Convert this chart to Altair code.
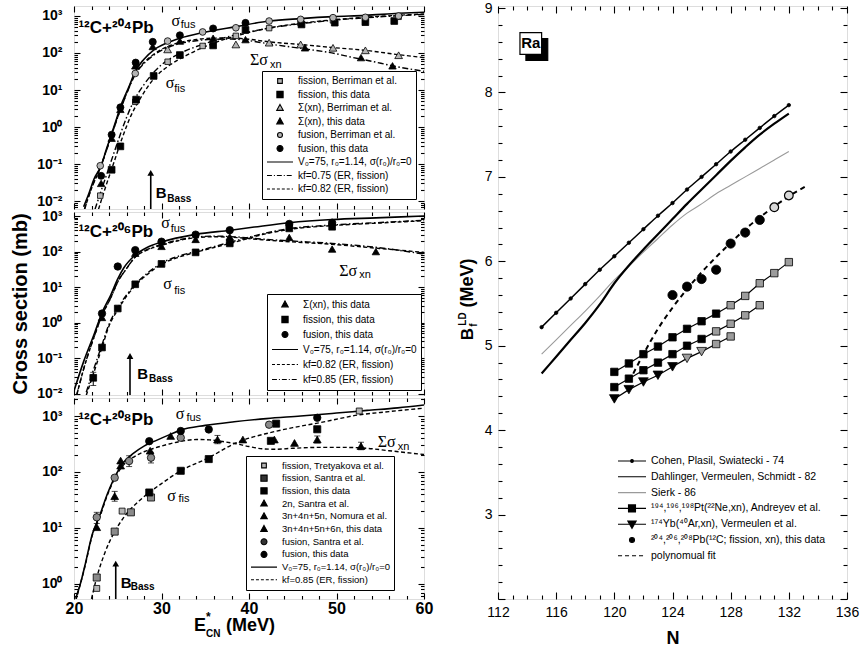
import altair as alt
import pandas as pd

SANS = "Liberation Sans"
SERIF = "Liberation Serif"

# ================= Panel 1 : 12C + 204Pb =================
p1_fus_E = [21.1, 21.7, 22.3, 23.1, 23.7, 24.3, 24.8, 25.3, 26.3, 27.0, 28.0, 29.1, 30.7, 32.1, 34.7, 38.5, 42.3, 45.9, 49.6, 53.3, 57.1, 60.0]
p1_fus_v = [0.007, 0.016, 0.04, 0.09, 0.25, 0.66, 1.5, 3.5, 12.6, 32, 68, 120, 190, 250, 355, 515, 730, 850, 960, 1040, 1180, 1260]
p1_fis75_E = [22.4, 23.0, 24.0, 25.0, 26.0, 27.0, 28.0, 29.0, 30.0, 32.0, 34.0, 36.0, 38.0, 40.0, 43.0, 46.0, 50.0, 55.0, 60.0]
p1_fis75_v = [0.006, 0.016, 0.08, 0.4, 1.8, 6, 14, 28, 48, 95, 150, 215, 290, 370, 500, 620, 780, 950, 1100]
p1_fis82_E = [22.8, 23.5, 24.5, 25.5, 26.5, 27.5, 28.5, 29.5, 31.0, 33.0, 35.0, 37.0, 39.0, 42.0, 46.0, 50.0, 55.0, 60.0]
p1_fis82_v = [0.006, 0.02, 0.1, 0.5, 2.0, 5.5, 13, 25, 48, 90, 150, 225, 310, 460, 640, 800, 980, 1130]
p1_xn82_E = [21.2, 22.0, 23.0, 24.0, 25.0, 26.0, 27.0, 28.0, 29.0, 30.0, 31.0, 32.0, 34.0, 36.0, 38.0, 40.0, 42.3, 45.9, 49.6, 53.3, 57.1, 60.0]
p1_xn82_v = [0.006, 0.022, 0.08, 0.38, 1.9, 8, 28, 55, 88, 125, 160, 190, 232, 252, 255, 235, 200, 170, 140, 118, 90, 75]
p1_xn75_E = [21.2, 22.0, 23.0, 24.0, 25.0, 26.0, 27.0, 28.0, 29.0, 30.0, 31.0, 32.0, 34.0, 36.0, 38.0, 40.0, 42.7, 46.5, 50.0, 51.6, 54.0, 56.4, 60.0]
p1_xn75_v = [0.006, 0.022, 0.08, 0.37, 1.85, 7.7, 26, 52, 84, 118, 150, 178, 215, 235, 238, 215, 170, 128, 95, 78, 60, 45, 32]

p1_fisB_E = [23.0, 27.0, 30.7, 34.7, 38.5, 42.3, 45.9, 49.6, 53.3, 57.1]
p1_fisB_v = [0.014, 4.8, 58, 155, 290, 470, 640, 760, 850, 950]
p1_fisT_E = [24.3, 25.3, 27.1, 29.1, 32.1, 35.9, 39.6, 46.0, 49.8, 53.3, 56.6]
p1_fisT_v = [0.07, 0.3, 5.5, 24, 88, 160, 420, 590, 660, 680, 730]
p1_xnB_E = [30.7, 38.5, 42.3, 45.9, 49.6, 53.3, 57.1]
p1_xnB_v = [125, 170, 190, 170, 138, 118, 87]
p1_xnT_E = [23.1, 24.3, 25.3, 27.0, 29.0, 32.1, 35.9, 39.6, 46.4, 52.8, 56.4]
p1_xnT_v = [0.03, 0.5, 3.0, 45, 150, 210, 250, 230, 138, 75, 45]
p1_fusB_E = [23.0, 27.0, 30.7, 34.7, 38.5, 42.3, 45.9, 49.6, 53.3, 57.1]
p1_fusB_v = [0.09, 28, 210, 370, 480, 730, 810, 900, 920, 1000]
p1_fusT_E = [23.1, 24.3, 25.3, 27.05, 29.0, 32.1, 35.9, 39.6]
p1_fusT_v = [0.048, 0.62, 3.4, 55, 200, 300, 460, 650]

# ================= Panel 2 : 12C + 206Pb =================
p2_fus_E = [20.0, 21.1, 22.3, 23.2, 24.2, 25.0, 25.7, 27.0, 28.4, 30.0, 33.9, 37.9, 40.6, 44.6, 49.5, 54.5, 60.0]
p2_fus_v = [0.012, 0.08, 0.47, 1.9, 6, 17, 35, 80, 133, 185, 305, 400, 490, 650, 800, 890, 1000]
p2_fis_E = [21.4, 22.2, 23.2, 24.0, 25.0, 26.0, 27.0, 28.5, 30.0, 32.0, 33.9, 36.0, 38.9, 41.5, 44.6, 49.5, 54.5, 60.0]
p2_fis82_v = [0.009, 0.035, 0.2, 0.8, 2.3, 5.5, 11, 24, 44, 70, 95, 130, 200, 300, 420, 540, 630, 740]
p2_fis85_v = [0.011, 0.045, 0.24, 0.9, 2.6, 6, 12, 26, 47, 75, 100, 138, 215, 315, 440, 560, 650, 760]
p2_xn_E = [20.3, 21.2, 22.3, 23.2, 24.2, 25.0, 26.0, 27.0, 28.4, 30.0, 32.0, 33.9, 36.0, 38.9, 41.5, 44.6, 49.5, 54.5, 60.0]
p2_xn82_v = [0.009, 0.06, 0.4, 1.6, 5, 14, 33, 70, 112, 150, 205, 245, 262, 245, 215, 190, 160, 125, 95]
p2_xn85_v = [0.009, 0.06, 0.4, 1.6, 5, 14, 33, 70, 115, 158, 215, 255, 272, 255, 225, 200, 170, 132, 85]

p2_xnT_E = [23.2, 27.0, 30.0, 33.9, 37.8, 44.6, 49.5, 54.5]
p2_xnT_v = [1.4, 90, 140, 220, 260, 250, 118, 100]
p2_fisT_E = [22.2, 23.2, 25.0, 27.0, 30.0, 33.9, 37.8, 44.6, 49.5]
p2_fisT_v = [0.028, 0.2, 2.5, 12, 45, 95, 170, 450, 500]
p2_fusT_E = [23.2, 25.0, 27.0, 30.0, 33.9, 37.8, 44.6, 49.5]
p2_fusT_v = [1.8, 38, 110, 190, 300, 400, 600, 650]
p2_err_E = [22.2]
p2_err_lo = [0.017]
p2_err_hi = [0.04]

# ================= Panel 3 : 12C + 208Pb =================
p3_fus_E = [20.2, 20.8, 21.3, 22.1, 22.9, 23.8, 24.8, 25.6, 26.7, 28.0, 29.3, 31.0, 32.2, 35.0, 38.3, 42.0, 45.9, 50.0, 53.5, 57.0, 60.0]
p3_fus_v = [0.55, 1.1, 2.3, 7.8, 16, 40, 90, 145, 210, 290, 360, 470, 560, 680, 790, 900, 1000, 1130, 1260, 1400, 1570]
p3_fis_E = [22.0, 22.6, 23.5, 24.65, 25.5, 26.5, 27.5, 28.6, 30.0, 32.2, 35.4, 38.5, 42.3, 45.0, 48.1, 52.6, 56.0, 60.0]
p3_fis_v = [0.54, 1.3, 3.5, 8.6, 14, 22, 31, 43, 62, 105, 180, 330, 500, 620, 760, 1050, 1200, 1380]
p3_xn_E = [20.2, 21.3, 22.1, 22.9, 23.8, 24.8, 25.6, 26.7, 28.0, 29.3, 31.0, 32.5, 34.0, 35.5, 37.0, 38.5, 40.0, 41.5, 43.0, 45.0, 48.0, 51.0, 53.5, 56.0, 60.0]
p3_xn_v = [0.5, 2.2, 7.5, 15, 38, 85, 130, 180, 230, 270, 320, 360, 380, 375, 350, 320, 285, 260, 255, 265, 275, 275, 265, 240, 205]

p3_fisTre_E = [22.6, 25.5, 52.6]
p3_fisTre_v = [0.83, 20, 1230]
p3_fisSan_E = [22.6, 24.65, 26.5, 28.8]
p3_fisSan_v = [1.3, 8.6, 19, 35]
p3_fisT_E = [28.6, 32.2, 35.4, 42.5, 43.1, 47.8]
p3_fisT_v = [43, 105, 170, 360, 730, 580]
p3_2n_E = [22.6, 24.65, 25.33]
p3_2n_v = [10.3, 37, 130]
p3_nom_E = [25.33, 28.7, 31.05, 36.4]
p3_nom_v = [160, 240, 440, 380]
p3_xnT_E = [39.3, 42.9, 45.2, 47.8, 52.8]
p3_xnT_v = [380, 380, 330, 380, 290]
p3_fusSan_E = [22.6, 24.65, 26.3, 28.8, 32.2, 42.3]
p3_fusSan_v = [15.5, 79, 157, 180, 410, 700]
p3_fusT_E = [28.6, 32.2, 35.4, 47.8]
p3_fusT_v = [355, 540, 575, 930]
p3_err_E = [22.6, 24.65, 26.3, 28.8, 36.4, 47.8, 52.8]
p3_err_lo = [12, 30, 125, 145, 320, 330, 250]
p3_err_hi = [19, 45, 195, 225, 450, 440, 340]

# ================= Right panel : Ra fission barriers =================
r_N = [115, 116, 117, 118, 119, 120, 121, 122, 123, 124, 125, 126, 127, 128, 129, 130, 131, 132]
r_cohen = [5.22, 5.39, 5.56, 5.73, 5.90, 6.06, 6.22, 6.38, 6.54, 6.69, 6.85, 7.00, 7.15, 7.30, 7.44, 7.58, 7.72, 7.85]
r_dahl = [4.67, 4.87, 5.07, 5.27, 5.49, 5.74, 5.95, 6.14, 6.32, 6.50, 6.68, 6.85, 7.02, 7.19, 7.35, 7.50, 7.63, 7.75]
r_sierk = [4.90, 5.07, 5.24, 5.41, 5.59, 5.78, 5.94, 6.11, 6.27, 6.43, 6.57, 6.68, 6.80, 6.90, 7.00, 7.10, 7.20, 7.30]

r_and1_N = [120, 121, 122, 123, 124, 125, 126, 127, 128, 129, 130, 131, 132]
r_and1_B = [4.69, 4.79, 4.90, 4.99, 5.10, 5.20, 5.29, 5.38, 5.48, 5.59, 5.74, 5.86, 5.99]
r_and1_grey = [False] * 8 + [True] * 5
r_and2_N = [120, 121, 122, 123, 124, 125, 126, 127, 128, 129, 130]
r_and2_B = [4.51, 4.61, 4.71, 4.80, 4.90, 5.00, 5.08, 5.17, 5.26, 5.36, 5.48]
r_and2_grey = [False] * 7 + [True] * 4
r_low_N = [120, 121, 122, 123, 124, 125, 126, 127, 128]
r_low_B = [4.37, 4.48, 4.57, 4.65, 4.75, 4.85, 4.93, 5.02, 5.11]
r_low_mark = ["tk", "tk", "tk", "tk", "tk", "tg", "tg", "sg", "sg"]

r_this_N = [124, 125, 126, 127, 128, 129, 130]
r_this_B = [5.60, 5.70, 5.79, 5.90, 6.21, 6.34, 6.49]
r_open_N = [131, 132]
r_open_B = [6.64, 6.78]
r_fit_N = [121.3, 122.0, 123.0, 124.0, 125.0, 126.0, 127.0, 128.0, 129.0, 130.0, 131.0, 132.0, 133.3]
r_fit_B = [4.67, 4.90, 5.20, 5.45, 5.67, 5.87, 6.05, 6.22, 6.38, 6.52, 6.65, 6.77, 6.90]

# ================= Legend texts =================
L1 = ["fission, Berriman et al.", "fission, this data", "Σ(xn), Berriman et al.", "Σ(xn), this data",
      "fusion, Berriman et al.", "fusion, this data", "V₀=75, r₀=1.14, σ(r₀)/r₀=0",
      "kf=0.75 (ER, fission)", "kf=0.82 (ER, fission)"]
L2 = ["Σ(xn), this data", "fission, this data", "fusion, this data", "V₀=75, r₀=1.14, σ(r₀)/r₀=0",
      "kf=0.82 (ER, fission)", "kf=0.85 (ER, fission)"]
L3 = ["fission, Tretyakova et al.", "fission, Santra et al.", "fission, this data", "2n, Santra et al.",
      "3n+4n+5n, Nomura et al.", "3n+4n+5n+6n, this data", "fusion, Santra et al.", "fusion, this data",
      "V₀=75, r₀=1.14, σ(r₀)/r₀=0", "kf=0.85 (ER, fission)"]
LR = ["Cohen, Plasil, Swiatecki - 74", "Dahlinger, Vermeulen, Schmidt - 82", "Sierk - 86",
      "¹⁹⁴,¹⁹⁶,¹⁹⁸Pt(²²Ne,xn), Andreyev et al.", "¹⁷⁴Yb(⁴⁰Ar,xn), Vermeulen et al.",
      "²⁰⁴,²⁰⁶,²⁰⁸Pb(¹²C; fission, xn), this data", "polynomual fit"]

# ================= styling helpers =================
GREY = "#b4b4b4"
DGREY = "#8a8a8a"
DASH = [4, 2.5]
DASHDOT = [6, 2.5, 1.5, 2.5]

P_SQS = "M-0.18,-0.18H0.18V0.18H-0.18Z"
P_SQ = "M-0.24,-0.24H0.24V0.24H-0.24Z"
P_TRI = "M0,-0.27L0.25,0.18L-0.25,0.18Z"
P_CIS = "M0.19,0A0.19,0.19 0 1,1 -0.19,0A0.19,0.19 0 1,1 0.19,0Z"
P_CI = "M0.23,0A0.23,0.23 0 1,1 -0.23,0A0.23,0.23 0 1,1 0.23,0Z"
P_LINE = "M-1,0H1"
P_DASH = "M-1,0H-0.77M-0.62,0H-0.39M-0.24,0H-0.01M0.14,0H0.37M0.52,0H0.75M0.9,0H1"
P_DD = "M-1,0H-0.62M-0.47,0H-0.39M-0.24,0H0.14M0.29,0H0.37M0.52,0H0.9"

SUP = ("datum.value < 0.05 ? '10⁻²' : datum.value < 0.5 ? '10⁻¹' : datum.value < 5 ? '10⁰' : "
       "datum.value < 50 ? '10¹' : datum.value < 500 ? '10²' : '10³'")


def ax(orient, values, size, labels=False, **kw):
    base = dict(orient=orient, values=values, tickSize=size, offset=-size, labels=labels,
                domain=False, grid=False, tickColor="black", tickWidth=1.1, labelColor="black",
                title=None, labelFlush=False, labelOverlap=False)
    base.update(kw)
    return alt.Axis(**base)


def legend_layer(field, labels, shapes, fills, strokes, lx, ly, clip_h, row_pad, sym_size, font_size, boxed=True):
    df = pd.DataFrame({field: labels})
    kw = dict(orient="none", legendX=lx, legendY=ly, direction="vertical",
              clipHeight=clip_h, rowPadding=row_pad, symbolSize=sym_size,
              symbolStrokeWidth=1.1, symbolOpacity=1, symbolFillColor="white",
              symbolStrokeColor="black", symbolOffset=0, labelFont=SANS,
              labelFontSize=font_size, labelOffset=4, labelLimit=400, labelColor="black")
    if boxed:
        kw.update(fillColor="white", strokeColor="black", padding=4)
    else:
        kw.update(padding=0)
    leg = alt.Legend(**kw)
    return alt.Chart(df).mark_point(opacity=0, filled=True, strokeWidth=1.1).encode(
        shape=alt.Shape(f"{field}:N", scale=alt.Scale(domain=labels, range=shapes), legend=leg, title=None),
        fill=alt.Fill(f"{field}:N", scale=alt.Scale(domain=labels, range=fills), legend=leg, title=None),
        stroke=alt.Stroke(f"{field}:N", scale=alt.Scale(domain=labels, range=strokes), legend=leg, title=None),
    )


XS = alt.Scale(domain=[20, 60], nice=False, zero=False)


def decades(lo, hi):
    return [d for d in [0.01, 0.1, 1, 10, 100, 1000] if lo <= d <= hi]


def minors(lo, hi):
    out = []
    for d in [0.001, 0.01, 0.1, 1, 10, 100, 1000]:
        for m in range(2, 10):
            val = round(m * d, 6)
            if lo <= val <= hi:
                out.append(val)
    return out


def left_panel(h, ydom, curves, pointsets, err, sig, sub, title_txt, title_pos, bass,
               legend, xlabels, ytitle, extra=None):
    ys = alt.Scale(type="log", domain=ydom, nice=False)
    fx = alt.X("E:Q", scale=XS, axis=None)
    fy = alt.Y("v:Q", scale=ys, axis=None)
    base_df = pd.DataFrame({"E": curves[0][0], "v": curves[0][1]})
    layers = []
    ymaj_kw = dict(labelExpr=SUP, labelFont=SANS, labelFontSize=14, labelFontWeight="bold", labelPadding=12)
    if ytitle:
        ymaj_kw.update(title=ytitle, titleFont=SANS, titleFontSize=20, titleFontWeight="bold",
                       titlePadding=6, titleColor="black")
    xmaj_kw = dict(labelFont=SANS, labelFontSize=16, labelFontWeight="bold", labelPadding=1)
    majx = [20, 30, 40, 50, 60]
    minx = [v for v in range(22, 60, 2) if v % 10 != 0]
    axis_specs = [
        (ax("bottom", majx, 6, labels=xlabels, **xmaj_kw), ax("left", decades(*ydom), 6, labels=True, **ymaj_kw)),
        (ax("bottom", minx, 3.5), ax("left", minors(*ydom), 3.5)),
        (ax("top", majx, 6), ax("right", decades(*ydom), 6)),
        (ax("top", minx, 3.5), ax("right", minors(*ydom), 3.5)),
    ]
    for xa, ya in axis_specs:
        layers.append(alt.Chart(base_df).mark_point(opacity=0).encode(
            x=alt.X("E:Q", scale=XS, axis=xa), y=alt.Y("v:Q", scale=ys, axis=ya)))
    for E, v, dash, w in curves:
        kw = dict(interpolate="monotone", clip=True, color="black", strokeWidth=w)
        if dash:
            kw["strokeDash"] = dash
        layers.append(alt.Chart(pd.DataFrame({"E": E, "v": v})).mark_line(**kw).encode(x=fx, y=fy))
    if err is not None:
        edf = pd.DataFrame({"E": err[0], "lo": err[1], "hi": err[2]})
        layers.append(alt.Chart(edf).mark_rule(color="black", strokeWidth=1).encode(
            x=fx, y=alt.Y("lo:Q", scale=ys, axis=None), y2="hi:Q"))
        for col in ["lo", "hi"]:
            layers.append(alt.Chart(edf).mark_tick(orient="horizontal", size=6, thickness=1, color="black").encode(
                x=fx, y=alt.Y(f"{col}:Q", scale=ys, axis=None)))
    for E, v, shape, fill, size in pointsets:
        layers.append(alt.Chart(pd.DataFrame({"E": E, "v": v})).mark_point(
            shape=shape, filled=True, fill=fill, stroke="black", strokeWidth=0.8, size=size,
            opacity=1, clip=True).encode(x=fx, y=fy))
    # B_Bass arrow
    adf = pd.DataFrame({"E": [bass["E"]], "lo": [ydom[0]], "tip": [bass["tip"]]})
    layers.append(alt.Chart(adf).mark_rule(color="black", strokeWidth=1.6).encode(
        x=fx, y=alt.Y("lo:Q", scale=ys, axis=None), y2="tip:Q"))
    layers.append(alt.Chart(adf).mark_point(shape="triangle-up", filled=True, color="black", size=45, opacity=1).encode(
        x=fx, y=alt.Y("tip:Q", scale=ys, axis=None)))
    layers.append(alt.Chart(pd.DataFrame({"E": [bass["bE"]], "v": [bass["bv"]]})).mark_text(
        text="B", align="left", baseline="middle", font=SANS, fontSize=15, fontWeight="bold", color="black").encode(x=fx, y=fy))
    layers.append(alt.Chart(pd.DataFrame({"E": [bass["sE"]], "v": [bass["sv"]]})).mark_text(
        text="Bass", align="left", baseline="middle", font=SANS, fontSize=10, fontWeight="bold", color="black").encode(x=fx, y=fy))
    # sigma labels
    layers.append(alt.Chart(pd.DataFrame({"E": sig[1], "v": sig[2], "t": sig[0]})).mark_text(
        align="left", baseline="middle", font=SERIF, fontSize=16, color="black").encode(x=fx, y=fy, text="t:N"))
    layers.append(alt.Chart(pd.DataFrame({"E": sub[1], "v": sub[2], "t": sub[0]})).mark_text(
        align="left", baseline="middle", font=SANS, fontSize=11, color="black").encode(x=fx, y=fy, text="t:N"))
    # panel title
    layers.append(alt.Chart(pd.DataFrame({"E": [title_pos[0]], "v": [title_pos[1]]})).mark_text(
        text=title_txt, align="left", baseline="middle", font=SANS, fontSize=17, fontWeight="bold", color="black").encode(x=fx, y=fy))
    if extra:
        layers.extend(extra)
    layers.append(legend)
    return alt.layer(*layers).resolve_axis(x="independent", y="independent").properties(width=350, height=h)


# ---------------- Panel 1 ----------------
leg1 = legend_layer("s1", L1, [P_SQS, P_SQ, P_TRI, P_TRI, P_CIS, P_CI, P_LINE, P_DD, P_DASH],
                    [GREY, "black", GREY, "black", GREY, "black", "transparent", "transparent", "transparent"],
                    ["black"] * 9, 188, 65, 12, 1.5, 676, 10)
panel1 = left_panel(
    203, [0.0061, 1860],
    [(p1_fus_E, p1_fus_v, None, 1.6), (p1_fis75_E, p1_fis75_v, DASHDOT, 1.4), (p1_fis82_E, p1_fis82_v, DASH, 1.4),
     (p1_xn75_E, p1_xn75_v, DASHDOT, 1.4), (p1_xn82_E, p1_xn82_v, DASH, 1.4)],
    [(p1_fisB_E, p1_fisB_v, "square", GREY, 30), (p1_fisT_E, p1_fisT_v, "square", "black", 45),
     (p1_xnB_E, p1_xnB_v, "triangle-up", GREY, 60), (p1_xnT_E, p1_xnT_v, "triangle-up", "black", 55),
     (p1_fusB_E, p1_fusB_v, "circle", GREY, 45), (p1_fusT_E, p1_fusT_v, "circle", "black", 50)],
    None,
    (["σ", "σ", "Σσ"], [31.15, 30.48, 40.1], [733, 15.5, 63]),
    (["fus", "fis", "xn"], [32.2, 31.45, 42.4], [570, 10.8, 47]),
    "¹²C+²⁰⁴Pb", (20.5, 470),
    dict(E=28.77, tip=0.058, bE=29.33, bv=0.016, sE=30.67, sv=0.0112),
    leg1, False, None)

# ---------------- Panel 2 ----------------
leg2 = legend_layer("s2", L2, [P_TRI, P_SQ, P_CI, P_LINE, P_DASH, P_DD],
                    ["black", "black", "black", "transparent", "transparent", "transparent"],
                    ["black"] * 6, 193, 82, 13, 2, 676, 10)
panel2 = left_panel(
    183, [0.0092, 1300],
    [(p2_fus_E, p2_fus_v, None, 1.6), (p2_fis_E, p2_fis82_v, DASH, 1.4), (p2_fis_E, p2_fis85_v, DASHDOT, 1.4),
     (p2_xn_E, p2_xn82_v, DASH, 1.4), (p2_xn_E, p2_xn85_v, DASHDOT, 1.4)],
    [(p2_fisT_E, p2_fisT_v, "square", "black", 45), (p2_xnT_E, p2_xnT_v, "triangle-up", "black", 55),
     (p2_fusT_E, p2_fusT_v, "circle", "black", 55)],
    (p2_err_E, p2_err_lo, p2_err_hi),
    (["σ", "σ", "Σσ"], [29.98, 30.2, 50.3], [650, 12.2, 29]),
    (["fus", "fis", "xn"], [31.05, 31.45, 52.6], [445, 7.9, 22]),
    "¹²C+²⁰⁶Pb", (20.5, 355),
    dict(E=26.4, tip=0.115, bE=27.24, bv=0.035, sE=28.57, sv=0.026),
    leg2, False, "Cross section (mb)")

# ---------------- Panel 3 ----------------
leg3 = legend_layer("s3", L3, [P_SQS, P_SQ, P_SQ, P_TRI, P_TRI, P_TRI, P_CI, P_CI, P_LINE, P_DASH],
                    [GREY, "#333333", "black", "black", "black", "black", "#333333", "black", "transparent", "transparent"],
                    ["black"] * 10, 172, 58, 11, 1.7, 676, 9.5)
E_title = [
    alt.Chart(pd.DataFrame({"a": [0]})).mark_text(text="E", align="left", baseline="middle", font=SANS, fontSize=18,
                                                 fontWeight="bold", color="black").encode(x=alt.value(120), y=alt.value(228)),
    alt.Chart(pd.DataFrame({"a": [0]})).mark_text(text="*", align="left", baseline="middle", font=SANS, fontSize=12,
                                                 fontWeight="bold", color="black").encode(x=alt.value(132), y=alt.value(219)),
    alt.Chart(pd.DataFrame({"a": [0]})).mark_text(text="CN", align="left", baseline="middle", font=SANS, fontSize=10,
                                                 fontWeight="bold", color="black").encode(x=alt.value(132), y=alt.value(236)),
    alt.Chart(pd.DataFrame({"a": [0]})).mark_text(text="(MeV)", align="left", baseline="middle", font=SANS, fontSize=18,
                                                 fontWeight="bold", color="black").encode(x=alt.value(152), y=alt.value(228)),
]
panel3 = left_panel(
    201, [0.537, 2100],
    [(p3_fus_E, p3_fus_v, None, 1.6), (p3_fis_E, p3_fis_v, DASH, 1.4), (p3_xn_E, p3_xn_v, DASH, 1.4)],
    [(p3_fisTre_E, p3_fisTre_v, "square", GREY, 35), (p3_fisSan_E, p3_fisSan_v, "square", DGREY, 50),
     (p3_fisT_E, p3_fisT_v, "square", "black", 50), (p3_2n_E, p3_2n_v, "triangle-up", "black", 60),
     (p3_nom_E, p3_nom_v, "triangle-up", "black", 60), (p3_xnT_E, p3_xnT_v, "triangle-up", "black", 60),
     (p3_fusSan_E, p3_fusSan_v, "circle", DGREY, 55), (p3_fusT_E, p3_fusT_v, "circle", "black", 55)],
    (p3_err_E, p3_err_lo, p3_err_hi),
    (["σ", "σ", "Σσ"], [31.62, 30.67, 54.7], [1090, 37.5, 345]),
    (["fus", "fis", "xn"], [32.85, 31.95, 57.0], [920, 32.7, 275]),
    "¹²C+²⁰⁸Pb", (20.5, 850),
    dict(E=24.77, tip=2.3, bE=25.33, bv=1.03, sE=26.48, sv=0.877),
    leg3, True, None, extra=E_title)

# ---------------- Right panel ----------------
XR = alt.Scale(domain=[112, 136], nice=False, zero=False)
YR = alt.Scale(domain=[2, 9.024], nice=False, zero=False)
rx = alt.X("N:Q", scale=XR, axis=None)
ry = alt.Y("B:Q", scale=YR, axis=None)

r_layers = []
rdf = pd.DataFrame({"N": r_N, "B": r_cohen})
xmajR = [112, 116, 120, 124, 128, 132, 136]
xminR = [v for v in range(113, 136) if v % 4 != 0]
ymajR = [2, 3, 4, 5, 6, 7, 8, 9]
yminR = [round(2 + 0.2 * i, 1) for i in range(1, 35) if i % 5 != 0]
r_axes = [
    (ax("bottom", xmajR, 7, labels=True, labelFont=SANS, labelFontSize=14, labelPadding=6,
        title="N", titleFont=SANS, titleFontSize=18, titleFontWeight="bold", titlePadding=10, titleColor="black"),
     ax("left", ymajR, 7, labels=True, labelFont=SANS, labelFontSize=14, labelPadding=6,
        labelExpr="datum.value > 2.5 ? datum.label : ''")),
    (ax("bottom", xminR, 4), ax("left", yminR, 4)),
    (ax("top", xmajR, 7), ax("right", ymajR, 7)),
    (ax("top", xminR, 4), ax("right", yminR, 4)),
]
for xa, ya in r_axes:
    r_layers.append(alt.Chart(rdf).mark_point(opacity=0).encode(
        x=alt.X("N:Q", scale=XR, axis=xa), y=alt.Y("B:Q", scale=YR, axis=ya)))


def rline(N, B, color="black", w=1.5, dash=None, interp="monotone"):
    kw = dict(color=color, strokeWidth=w, interpolate=interp, clip=True)
    if dash:
        kw["strokeDash"] = dash
    return alt.Chart(pd.DataFrame({"N": N, "B": B})).mark_line(**kw).encode(x=rx, y=ry)


def rpts(N, B, shape, fill, size, stroke="black", sw=0.8):
    return alt.Chart(pd.DataFrame({"N": N, "B": B})).mark_point(
        shape=shape, filled=True, fill=fill, stroke=stroke, strokeWidth=sw, size=size, opacity=1).encode(x=rx, y=ry)


r_layers.append(rline(r_N, r_sierk, color="#9a9a9a", w=1.1))
r_layers.append(rline(r_N, r_dahl, w=2.2))
r_layers.append(rline(r_N, r_cohen, w=1.5))
r_layers.append(rpts(r_N, r_cohen, "circle", "black", 12))
r_layers.append(rline(r_fit_N, r_fit_B, w=2.0, dash=[5, 4]))
r_layers.append(rline(r_and1_N, r_and1_B, w=1.2, interp="linear"))
r_layers.append(rline(r_and2_N, r_and2_B, w=1.2, interp="linear"))
r_layers.append(rline(r_low_N, r_low_B, w=1.2, interp="linear"))
for N, B, g in [(r_and1_N, r_and1_B, r_and1_grey), (r_and2_N, r_and2_B, r_and2_grey)]:
    r_layers.append(rpts([n for n, q in zip(N, g) if not q], [b for b, q in zip(B, g) if not q], "square", "black", 55))
    r_layers.append(rpts([n for n, q in zip(N, g) if q], [b for b, q in zip(B, g) if q], "square", "#9c9c9c", 55))
for code, shape, fill, size in [("tk", "triangle-down", "black", 95), ("tg", "triangle-down", "#9c9c9c", 95),
                                ("sg", "square", "#9c9c9c", 55)]:
    r_layers.append(rpts([n for n, m in zip(r_low_N, r_low_mark) if m == code],
                         [b for b, m in zip(r_low_B, r_low_mark) if m == code], shape, fill, size))
r_layers.append(rpts(r_this_N, r_this_B, "circle", "black", 85))
r_layers.append(rpts(r_open_N, r_open_B, "circle", "#d8d8d8", 75, sw=1.2))

# "Ra" box with shadow (annotation)
box_df = pd.DataFrame({"x1": [113.92, 113.51], "x2": [115.42, 115.0], "y1": [8.637, 8.708], "y2": [8.381, 8.452],
                       "f": ["black", "white"]})
r_layers.append(alt.Chart(box_df).mark_rect(stroke="black", strokeWidth=1.2).encode(
    x=alt.X("x1:Q", scale=XR, axis=None), x2="x2:Q", y=alt.Y("y1:Q", scale=YR, axis=None), y2="y2:Q",
    fill=alt.Fill("f:N", scale=None)))
r_layers.append(alt.Chart(pd.DataFrame({"N": [114.25], "B": [8.58]})).mark_text(
    text="Ra", font=SANS, fontSize=15, fontWeight="bold", color="black", align="center", baseline="middle").encode(x=rx, y=ry))

# rotated y title  B_f^LD (MeV)
for txt, xv, yv, fs in [("B", -30, 328, 17), ("f", -24.5, 319, 10), ("LD", -35.5, 313, 10), ("(MeV)", -30, 277, 18)]:
    r_layers.append(alt.Chart(pd.DataFrame({"a": [0]})).mark_text(
        text=txt, angle=270, align="center", baseline="middle", font=SANS, fontSize=fs, fontWeight="bold",
        color="black").encode(x=alt.value(xv), y=alt.value(yv)))

P_COH = "M-1,0H1M0.1,0A0.1,0.1 0 1,1 -0.1,0A0.1,0.1 0 1,1 0.1,0Z"
P_AND = "M-1,0H1M-0.25,-0.25H0.25V0.25H-0.25Z"
P_VER = "M-1,0H1M-0.3,-0.22L0.3,-0.22L0,0.3Z"
P_DOT = "M0.18,0A0.18,0.18 0 1,1 -0.18,0A0.18,0.18 0 1,1 0.18,0Z"
P_FIT = "M-1,0H-0.71M-0.5,0H-0.21M0,0H0.29M0.5,0H0.79"
r_layers.append(legend_layer("sr", LR, [P_COH, P_LINE, P_LINE, P_AND, P_VER, P_DOT, P_FIT],
                             ["black", "transparent", "transparent", "black", "black", "black", "transparent"],
                             ["black", "black", "#9a9a9a", "black", "black", "black", "black"],
                             119, 448, 14, 1.8, 784, 10.5, boxed=False))

right = alt.layer(*r_layers).resolve_axis(x="independent", y="independent").properties(width=349, height=593)

left = alt.vconcat(panel1, panel2, panel3, spacing=3, bounds="flush").resolve_scale(
    shape="independent", fill="independent", stroke="independent")

chart = alt.hconcat(left, right, spacing=23).resolve_scale(
    shape="independent", fill="independent", stroke="independent").properties(
    padding={"left": 10, "top": 0, "right": 3, "bottom": 0}, background="white").configure_view(
    stroke="black", strokeWidth=1.6).configure(font=SANS)

chart.save("out.html", embed_options={"renderer": "svg", "actions": False})
